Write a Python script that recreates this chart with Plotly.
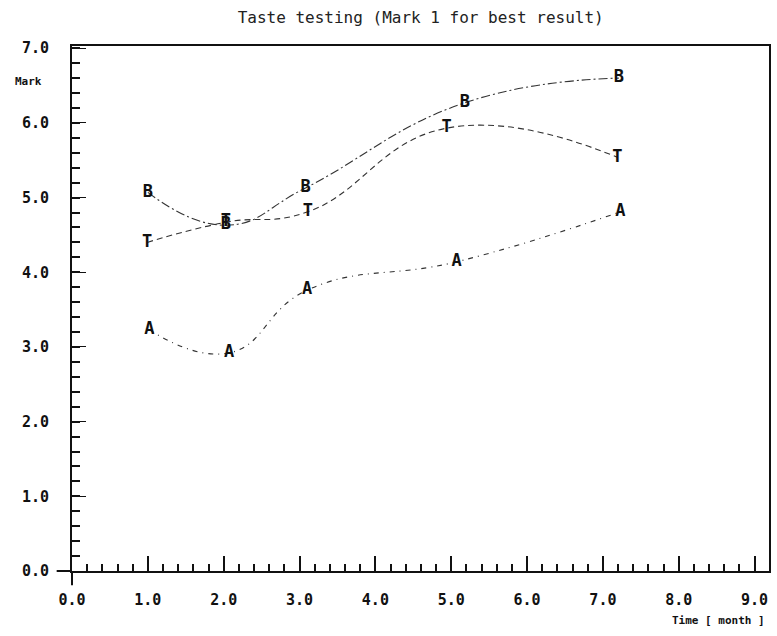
import plotly.graph_objects as go

# Taste scores per sample over storage time
months_b = [1.0, 2.03, 3.08, 5.18, 7.21]
marks_b = [5.07, 4.63, 5.13, 6.27, 6.60]

months_t = [0.99, 2.03, 3.11, 4.94, 7.19]
marks_t = [4.40, 4.67, 4.81, 5.93, 5.54]

months_a = [1.02, 2.07, 3.10, 5.07, 7.23]
marks_a = [3.23, 2.92, 3.76, 4.14, 4.81]

x_ticks = [0, 1, 2, 3, 4, 5, 6, 7, 8, 9]
x_ticktext = ["0.0", "1.0", "2.0", "3.0", "4.0", "5.0", "6.0", "7.0", "8.0", "9.0"]
y_ticks = [0, 1, 2, 3, 4, 5, 6, 7]
y_ticktext = ["0.0", "1.0", "2.0", "3.0", "4.0", "5.0", "6.0", "7.0"]

MONO = "DejaVu Sans Mono"
INK = "#111111"

series = [
    ("B", months_b, marks_b, "9px,3px,2px,3px"),
    ("T", months_t, marks_t, "6px,4px"),
    ("A", months_a, marks_a, "5px,5px,1px,5px"),
]

fig = go.Figure()
for letter, xs, ys, dash in series:
    fig.add_trace(go.Scatter(
        x=xs, y=ys,
        mode="lines+text",
        text=[letter] * len(xs),
        textposition="middle center",
        textfont=dict(family=MONO, size=17, color=INK, weight="bold"),
        line=dict(shape="spline", smoothing=1.3, color="#333333", width=1.1, dash=dash),
        cliponaxis=False,
        showlegend=False,
        name=letter,
    ))

fig.update_layout(
    width=777, height=636,
    margin=dict(l=72, r=6, t=46, b=65),
    plot_bgcolor="white",
    paper_bgcolor="white",
    title=dict(
        text="Taste testing (Mark 1 for best result)",
        x=0.5414, xanchor="center", y=0.972, yanchor="middle",
        font=dict(family=MONO, size=16, color="#222222"),
    ),
    xaxis=dict(
        range=[0, 9.19],
        tickmode="array", tickvals=x_ticks, ticktext=x_ticktext,
        ticks="inside", ticklen=15, tickwidth=1.5, tickcolor=INK,
        minor=dict(dtick=0.2, ticks="inside", ticklen=7, tickwidth=1.5, tickcolor=INK),
        showline=True, linecolor=INK, linewidth=2, mirror=True,
        showgrid=False, zeroline=False,
        tickfont=dict(family=MONO, size=15, color=INK, weight="bold"),
        ticklabelstandoff=14,
    ),
    yaxis=dict(
        range=[0, 7.03],
        tickmode="array", tickvals=y_ticks, ticktext=y_ticktext,
        ticks="inside", ticklen=14, tickwidth=1.2, tickcolor=INK,
        minor=dict(dtick=0.2, ticks="inside", ticklen=8, tickwidth=1.5, tickcolor=INK),
        showline=True, linecolor=INK, linewidth=2, mirror=True,
        showgrid=False, zeroline=False,
        tickfont=dict(family=MONO, size=15, color=INK, weight="bold"),
        ticklabelstandoff=18,
    ),
    shapes=[
        # axis lines run a little past the origin
        dict(type="line", xref="x domain", yref="y domain",
             x0=-0.022, x1=0, y0=0, y1=0, line=dict(color=INK, width=2)),
        dict(type="line", xref="x domain", yref="y domain",
             x0=0, x1=0, y0=-0.027, y1=0, line=dict(color=INK, width=2)),
    ],
    annotations=[
        dict(text="Mark", xref="paper", yref="paper", x=-0.063, y=0.932,
             xanchor="center", yanchor="middle", showarrow=False,
             font=dict(family=MONO, size=11, color=INK, weight="bold")),
        dict(text="Time [ month ]", xref="paper", yref="paper", x=0.997, y=-0.095,
             xanchor="right", yanchor="middle", showarrow=False,
             font=dict(family=MONO, size=11, color=INK, weight="bold")),
    ],
)

fig.write_html("out.html")
